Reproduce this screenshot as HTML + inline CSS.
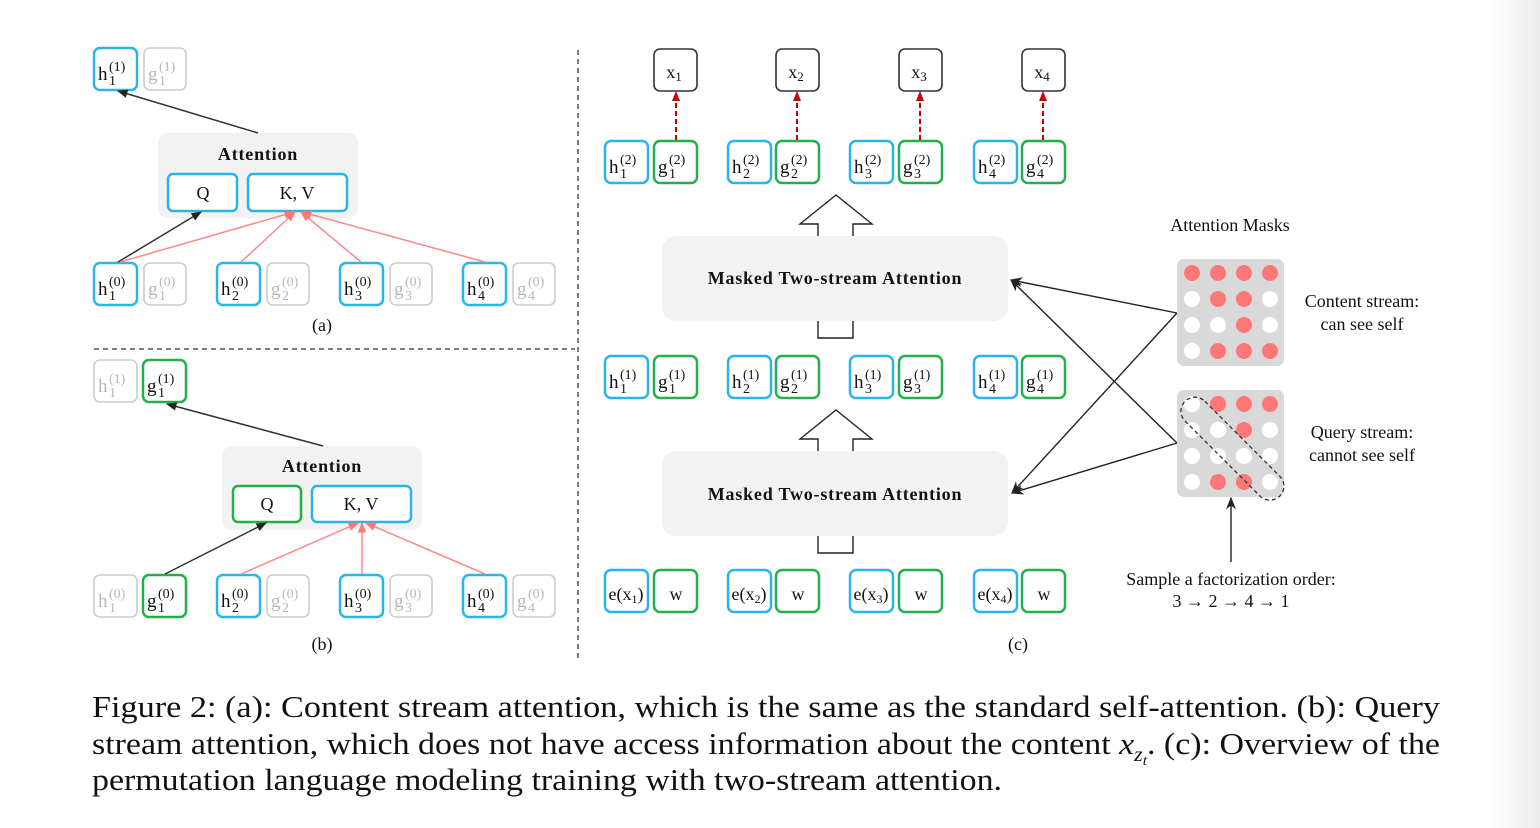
<!DOCTYPE html>
<html><head><meta charset="utf-8"><style>
html,body{margin:0;padding:0;background:#fff;}
svg{display:block;}
text{font-family:"Liberation Serif",serif;}
.l{font-size:19px;fill:#111;}
.s{font-size:14px;}
.gy{fill:#b8b8b8;}
</style></head><body>
<svg width="1540" height="828" viewBox="0 0 1540 828" xmlns="http://www.w3.org/2000/svg">
<defs>
<linearGradient id="edge" x1="0" x2="1"><stop offset="0" stop-color="#fff"/><stop offset="1" stop-color="#ececec"/></linearGradient>
<marker id="ak" viewBox="0 0 10 10" refX="9" refY="5" markerWidth="7" markerHeight="7" orient="auto"><path d="M0,1 L10,5 L0,9 z" fill="#222"/></marker>
<marker id="ap" viewBox="0 0 10 10" refX="9" refY="5" markerWidth="7" markerHeight="7" orient="auto"><path d="M0,1 L10,5 L0,9 z" fill="#f77"/></marker>
<marker id="ar" viewBox="0 0 10 10" refX="9" refY="5" markerWidth="5" markerHeight="5" orient="auto"><path d="M0,1 L10,5 L0,9 z" fill="#c00"/></marker>
<marker id="ao" viewBox="0 0 10 10" refX="9" refY="5" markerWidth="9" markerHeight="9" orient="auto"><path d="M0,1 L10,5 L0,9 L3,5 z" fill="#222"/></marker>
</defs>
<rect x="1490" y="0" width="50" height="828" fill="url(#edge)"/>

<line x1="578" y1="50" x2="578" y2="662" stroke="#333" stroke-width="1.3" stroke-dasharray="5,4"/>
<line x1="94" y1="349" x2="575" y2="349" stroke="#333" stroke-width="1.3" stroke-dasharray="5,4"/>

<g fill="none" stroke-width="2.5">
<rect x="94" y="48" width="43" height="42" rx="6" stroke="#29b5ea"/>
<rect x="144" y="48" width="42" height="42" rx="6" stroke="#ccc" stroke-width="1.6"/>
<rect x="158" y="133" width="200" height="85" rx="10" fill="#f2f2f2" stroke="none"/>
<rect x="168" y="174" width="69" height="37" rx="5" stroke="#29b5ea" fill="#fff"/>
<rect x="248" y="174" width="99" height="37" rx="5" stroke="#29b5ea" fill="#fff"/>
<rect x="94" y="263" width="43" height="42" rx="6" stroke="#29b5ea"/>
<rect x="144" y="263" width="42" height="42" rx="6" stroke="#ccc" stroke-width="1.6"/>
<rect x="217" y="263" width="43" height="42" rx="6" stroke="#29b5ea"/>
<rect x="267" y="263" width="42" height="42" rx="6" stroke="#ccc" stroke-width="1.6"/>
<rect x="340" y="263" width="43" height="42" rx="6" stroke="#29b5ea"/>
<rect x="390" y="263" width="42" height="42" rx="6" stroke="#ccc" stroke-width="1.6"/>
<rect x="463" y="263" width="43" height="42" rx="6" stroke="#29b5ea"/>
<rect x="513" y="263" width="42" height="42" rx="6" stroke="#ccc" stroke-width="1.6"/>
<rect x="94" y="360" width="43" height="42" rx="6" stroke="#ccc" stroke-width="1.6"/>
<rect x="143" y="360" width="43" height="42" rx="6" stroke="#22b04b"/>
<rect x="222" y="446" width="200" height="84" rx="10" fill="#f2f2f2" stroke="none"/>
<rect x="233" y="486" width="68" height="36" rx="5" stroke="#22b04b" fill="#fff"/>
<rect x="312" y="486" width="99" height="36" rx="5" stroke="#29b5ea" fill="#fff"/>
<rect x="94" y="575" width="43" height="42" rx="6" stroke="#ccc" stroke-width="1.6"/>
<rect x="143" y="575" width="43" height="42" rx="6" stroke="#22b04b"/>
<rect x="217" y="575" width="43" height="42" rx="6" stroke="#29b5ea"/>
<rect x="267" y="575" width="42" height="42" rx="6" stroke="#ccc" stroke-width="1.6"/>
<rect x="340" y="575" width="43" height="42" rx="6" stroke="#29b5ea"/>
<rect x="390" y="575" width="42" height="42" rx="6" stroke="#ccc" stroke-width="1.6"/>
<rect x="463" y="575" width="43" height="42" rx="6" stroke="#29b5ea"/>
<rect x="513" y="575" width="42" height="42" rx="6" stroke="#ccc" stroke-width="1.6"/>
<rect x="654" y="49" width="43" height="42" rx="6" stroke="#333" stroke-width="1.6"/>
<rect x="776" y="49" width="43" height="42" rx="6" stroke="#333" stroke-width="1.6"/>
<rect x="899" y="49" width="43" height="42" rx="6" stroke="#333" stroke-width="1.6"/>
<rect x="1022" y="49" width="43" height="42" rx="6" stroke="#333" stroke-width="1.6"/>
<g id="rowh2">
<rect x="605" y="141" width="43" height="42" rx="6" stroke="#29b5ea"/><rect x="654" y="141" width="43" height="42" rx="6" stroke="#22b04b"/>
<rect x="728" y="141" width="43" height="42" rx="6" stroke="#29b5ea"/><rect x="776" y="141" width="43" height="42" rx="6" stroke="#22b04b"/>
<rect x="850" y="141" width="43" height="42" rx="6" stroke="#29b5ea"/><rect x="899" y="141" width="43" height="42" rx="6" stroke="#22b04b"/>
<rect x="974" y="141" width="43" height="42" rx="6" stroke="#29b5ea"/><rect x="1022" y="141" width="43" height="42" rx="6" stroke="#22b04b"/>
</g>
<use href="#rowh2" y="215"/>
<use href="#rowh2" y="429"/>
</g>

<rect x="662" y="236" width="346" height="85" rx="14" fill="#f2f2f2"/>
<rect x="662" y="451" width="346" height="85" rx="14" fill="#f2f2f2"/>
<g fill="none" stroke="#222" stroke-width="1.4">
<path d="M818,236 V224 H800 L836,195 L872,224 H853 V236"/>
<path d="M818,321 V338 H853 V321"/>
<path d="M818,451 V439 H800 L836,410 L872,439 H853 V451"/>
<path d="M818,536 V553 H853 V536"/>
</g>
<g font-size="18" font-weight="bold" text-anchor="middle" letter-spacing="0.8">
<text x="835" y="284" fill="#111">Masked Two-stream Attention</text>
<text x="835" y="500" fill="#111">Masked Two-stream Attention</text>
<text x="258" y="160" fill="#111">Attention</text>
<text x="322" y="472" fill="#111">Attention</text>
</g>

<line x1="258" y1="133" x2="118" y2="91" stroke="#333" stroke-width="1.5" marker-end="url(#ak)"/>
<line x1="118" y1="262" x2="201" y2="212" stroke="#333" stroke-width="1.5" marker-end="url(#ak)"/>
<g stroke="#f88" stroke-width="1.5" marker-end="url(#ap)">
<line x1="120" y1="262" x2="294" y2="212"/>
<line x1="241" y1="262" x2="295" y2="212"/>
<line x1="361" y1="262" x2="301" y2="212"/>
<line x1="485" y1="262" x2="302" y2="212"/>
</g>
<line x1="323" y1="446" x2="167" y2="404" stroke="#333" stroke-width="1.5" marker-end="url(#ak)"/>
<line x1="165" y1="574" x2="266" y2="523" stroke="#333" stroke-width="1.5" marker-end="url(#ak)"/>
<g stroke="#f88" stroke-width="1.5" marker-end="url(#ap)">
<line x1="241" y1="574" x2="358" y2="523"/>
<line x1="362" y1="574" x2="362" y2="523"/>
<line x1="485" y1="574" x2="366" y2="523"/>
</g>
<g stroke="#c00" stroke-width="2" stroke-dasharray="5,3" marker-end="url(#ar)">
<line x1="676" y1="140" x2="676" y2="92"/>
<line x1="797" y1="140" x2="797" y2="92"/>
<line x1="920" y1="140" x2="920" y2="92"/>
<line x1="1043" y1="140" x2="1043" y2="92"/>
</g>
<g stroke="#222" stroke-width="1.4" fill="none" marker-end="url(#ao)">
<line x1="1177" y1="313" x2="1011" y2="280"/>
<line x1="1177" y1="313" x2="1012" y2="493"/>
<line x1="1177" y1="443" x2="1011" y2="280"/>
<line x1="1177" y1="443" x2="1012" y2="493"/>
<line x1="1231" y1="562" x2="1231" y2="498"/>
</g>

<rect x="1177" y="259" width="107" height="107" rx="7" fill="#d9d9d9"/>
<rect x="1177" y="390" width="107" height="107" rx="7" fill="#d9d9d9"/>
<g fill="#fff">
<circle cx="1192" cy="299" r="8"/><circle cx="1270" cy="299" r="8"/>
<circle cx="1192" cy="325" r="8"/><circle cx="1218" cy="325" r="8"/><circle cx="1270" cy="325" r="8"/>
<circle cx="1192" cy="351" r="8"/>
<circle cx="1192" cy="404" r="8"/>
<circle cx="1192" cy="430" r="8"/><circle cx="1218" cy="430" r="8"/><circle cx="1270" cy="430" r="8"/>
<circle cx="1192" cy="456" r="8"/><circle cx="1218" cy="456" r="8"/><circle cx="1244" cy="456" r="8"/><circle cx="1270" cy="456" r="8"/>
<circle cx="1192" cy="482" r="8"/><circle cx="1270" cy="482" r="8"/>
</g>
<g fill="#f77">
<circle cx="1192" cy="273" r="8"/><circle cx="1218" cy="273" r="8"/><circle cx="1244" cy="273" r="8"/><circle cx="1270" cy="273" r="8"/>
<circle cx="1218" cy="299" r="8"/><circle cx="1244" cy="299" r="8"/>
<circle cx="1244" cy="325" r="8"/>
<circle cx="1218" cy="351" r="8"/><circle cx="1244" cy="351" r="8"/><circle cx="1270" cy="351" r="8"/>
<circle cx="1218" cy="404" r="8"/><circle cx="1244" cy="404" r="8"/><circle cx="1270" cy="404" r="8"/>
<circle cx="1244" cy="430" r="8"/>
<circle cx="1218" cy="482" r="8"/><circle cx="1244" cy="482" r="8"/>
</g>
<rect x="1169" y="432" width="134" height="28" rx="14" transform="rotate(45 1231 443)" fill="none" stroke="#333" stroke-width="1.3" stroke-dasharray="4,3"/>

<g font-size="18" fill="#111" text-anchor="middle">
<text x="1230" y="231">Attention Masks</text>
<text x="1362" y="307">Content stream:</text>
<text x="1362" y="330">can see self</text>
<text x="1362" y="438">Query stream:</text>
<text x="1362" y="461">cannot see self</text>
<text x="1231" y="585">Sample a factorization order:</text>
<text x="1231" y="607">3 <tspan font-weight="bold">→</tspan> 2 <tspan font-weight="bold">→</tspan> 4 <tspan font-weight="bold">→</tspan> 1</text>
<text x="322" y="331">(a)</text>
<text x="322" y="650">(b)</text>
<text x="1018" y="650">(c)</text>
<text x="203" y="199">Q</text><text x="297" y="199">K, V</text>
<text x="267" y="510">Q</text><text x="361" y="510">K, V</text>
<text x="626" y="600">e(x<tspan font-size="12" dy="3">1</tspan><tspan dy="-3">)</tspan></text><text x="676" y="600">w</text>
<text x="749" y="600">e(x<tspan font-size="12" dy="3">2</tspan><tspan dy="-3">)</tspan></text><text x="798" y="600">w</text>
<text x="871" y="600">e(x<tspan font-size="12" dy="3">3</tspan><tspan dy="-3">)</tspan></text><text x="921" y="600">w</text>
<text x="995" y="600">e(x<tspan font-size="12" dy="3">4</tspan><tspan dy="-3">)</tspan></text><text x="1044" y="600">w</text>
<text x="674" y="78">x<tspan font-size="13" dy="3">1</tspan></text>
<text x="796" y="78">x<tspan font-size="13" dy="3">2</tspan></text>
<text x="919" y="78">x<tspan font-size="13" dy="3">3</tspan></text>
<text x="1042" y="78">x<tspan font-size="13" dy="3">4</tspan></text>
</g>

<g class="l">
<text x="98" y="80">h<tspan class="s" x="109" dy="-9">(1)</tspan><tspan class="s" x="109" dy="14">1</tspan></text>
<text x="148" y="80" class="gy">g<tspan class="s" x="159" dy="-9">(1)</tspan><tspan class="s" x="159" dy="14">1</tspan></text>
<text x="98" y="295">h<tspan class="s" x="109" dy="-9">(0)</tspan><tspan class="s" x="109" dy="14">1</tspan></text>
<text x="148" y="295" class="gy">g<tspan class="s" x="159" dy="-9">(0)</tspan><tspan class="s" x="159" dy="14">1</tspan></text>
<text x="221" y="295">h<tspan class="s" x="232" dy="-9">(0)</tspan><tspan class="s" x="232" dy="14">2</tspan></text>
<text x="271" y="295" class="gy">g<tspan class="s" x="282" dy="-9">(0)</tspan><tspan class="s" x="282" dy="14">2</tspan></text>
<text x="344" y="295">h<tspan class="s" x="355" dy="-9">(0)</tspan><tspan class="s" x="355" dy="14">3</tspan></text>
<text x="394" y="295" class="gy">g<tspan class="s" x="405" dy="-9">(0)</tspan><tspan class="s" x="405" dy="14">3</tspan></text>
<text x="467" y="295">h<tspan class="s" x="478" dy="-9">(0)</tspan><tspan class="s" x="478" dy="14">4</tspan></text>
<text x="517" y="295" class="gy">g<tspan class="s" x="528" dy="-9">(0)</tspan><tspan class="s" x="528" dy="14">4</tspan></text>

<text x="98" y="392" class="gy">h<tspan class="s" x="109" dy="-9">(1)</tspan><tspan class="s" x="109" dy="14">1</tspan></text>
<text x="147" y="392">g<tspan class="s" x="158" dy="-9">(1)</tspan><tspan class="s" x="158" dy="14">1</tspan></text>
<text x="98" y="607" class="gy">h<tspan class="s" x="109" dy="-9">(0)</tspan><tspan class="s" x="109" dy="14">1</tspan></text>
<text x="147" y="607">g<tspan class="s" x="158" dy="-9">(0)</tspan><tspan class="s" x="158" dy="14">1</tspan></text>
<text x="221" y="607">h<tspan class="s" x="232" dy="-9">(0)</tspan><tspan class="s" x="232" dy="14">2</tspan></text>
<text x="271" y="607" class="gy">g<tspan class="s" x="282" dy="-9">(0)</tspan><tspan class="s" x="282" dy="14">2</tspan></text>
<text x="344" y="607">h<tspan class="s" x="355" dy="-9">(0)</tspan><tspan class="s" x="355" dy="14">3</tspan></text>
<text x="394" y="607" class="gy">g<tspan class="s" x="405" dy="-9">(0)</tspan><tspan class="s" x="405" dy="14">3</tspan></text>
<text x="467" y="607">h<tspan class="s" x="478" dy="-9">(0)</tspan><tspan class="s" x="478" dy="14">4</tspan></text>
<text x="517" y="607" class="gy">g<tspan class="s" x="528" dy="-9">(0)</tspan><tspan class="s" x="528" dy="14">4</tspan></text>

<text x="609" y="173">h<tspan class="s" x="620" dy="-9">(2)</tspan><tspan class="s" x="620" dy="14">1</tspan></text>
<text x="658" y="173">g<tspan class="s" x="669" dy="-9">(2)</tspan><tspan class="s" x="669" dy="14">1</tspan></text>
<text x="732" y="173">h<tspan class="s" x="743" dy="-9">(2)</tspan><tspan class="s" x="743" dy="14">2</tspan></text>
<text x="780" y="173">g<tspan class="s" x="791" dy="-9">(2)</tspan><tspan class="s" x="791" dy="14">2</tspan></text>
<text x="854" y="173">h<tspan class="s" x="865" dy="-9">(2)</tspan><tspan class="s" x="865" dy="14">3</tspan></text>
<text x="903" y="173">g<tspan class="s" x="914" dy="-9">(2)</tspan><tspan class="s" x="914" dy="14">3</tspan></text>
<text x="978" y="173">h<tspan class="s" x="989" dy="-9">(2)</tspan><tspan class="s" x="989" dy="14">4</tspan></text>
<text x="1026" y="173">g<tspan class="s" x="1037" dy="-9">(2)</tspan><tspan class="s" x="1037" dy="14">4</tspan></text>

<text x="609" y="388">h<tspan class="s" x="620" dy="-9">(1)</tspan><tspan class="s" x="620" dy="14">1</tspan></text>
<text x="658" y="388">g<tspan class="s" x="669" dy="-9">(1)</tspan><tspan class="s" x="669" dy="14">1</tspan></text>
<text x="732" y="388">h<tspan class="s" x="743" dy="-9">(1)</tspan><tspan class="s" x="743" dy="14">2</tspan></text>
<text x="780" y="388">g<tspan class="s" x="791" dy="-9">(1)</tspan><tspan class="s" x="791" dy="14">2</tspan></text>
<text x="854" y="388">h<tspan class="s" x="865" dy="-9">(1)</tspan><tspan class="s" x="865" dy="14">3</tspan></text>
<text x="903" y="388">g<tspan class="s" x="914" dy="-9">(1)</tspan><tspan class="s" x="914" dy="14">3</tspan></text>
<text x="978" y="388">h<tspan class="s" x="989" dy="-9">(1)</tspan><tspan class="s" x="989" dy="14">4</tspan></text>
<text x="1026" y="388">g<tspan class="s" x="1037" dy="-9">(1)</tspan><tspan class="s" x="1037" dy="14">4</tspan></text>
</g>

<g font-size="31" fill="#111">
<text x="92" y="717" textLength="1348" lengthAdjust="spacingAndGlyphs">Figure 2: (a): Content stream attention, which is the same as the standard self-attention. (b): Query</text>
<text x="92" y="754" textLength="1348" lengthAdjust="spacingAndGlyphs">stream attention, which does not have access information about the content <tspan font-style="italic">x</tspan><tspan font-size="20" font-style="italic" dy="7">z</tspan><tspan font-size="14" font-style="italic" dy="4">t</tspan><tspan dy="-11">. (c): Overview of the</tspan></text>
<text x="92" y="790" textLength="910" lengthAdjust="spacingAndGlyphs">permutation language modeling training with two-stream attention.</text>
</g>
</svg>
</body></html>
